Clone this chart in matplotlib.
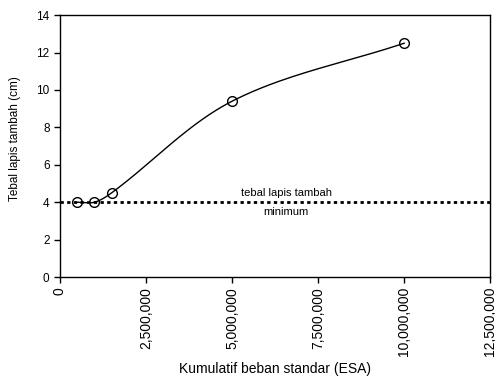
import numpy as np
import matplotlib.pyplot as plt
from matplotlib.ticker import FuncFormatter

plt.rcParams["font.family"] = ["Liberation Sans", "DejaVu Sans"]
plt.rcParams["font.size"] = 8

esa = [500000, 1000000, 1500000, 5000000, 10000000]
tebal = [4.0, 4.0, 4.5, 9.4, 12.5]
tebal_min = 4.0
x_ticks = [0, 2500000, 5000000, 7500000, 10000000, 12500000]
y_ticks = [0, 2, 4, 6, 8, 10, 12, 14]


def smooth(xs, ys, n=40):
    # bezier smoothing, tangents from neighbours, handles scaled by chord length
    p = np.column_stack([xs, ys]).astype(float)
    m = len(p)
    tang = []
    for i in range(m):
        a = p[max(i - 1, 0)]
        b = p[min(i + 1, m - 1)]
        d = b - a
        tang.append(d / np.hypot(*d))
    out = []
    t = np.linspace(0, 1, n)[:, None]
    for i in range(m - 1):
        p1, p2 = p[i], p[i + 1]
        L = np.hypot(*(p2 - p1)) / 3
        c1 = p1 + tang[i] * L
        c2 = p2 - tang[i + 1] * L
        c = ((1 - t) ** 3) * p1 + 3 * ((1 - t) ** 2) * t * c1 + 3 * (1 - t) * t ** 2 * c2 + t ** 3 * p2
        out.append(c)
    c = np.vstack(out)
    return c[:, 0], c[:, 1]


fig = plt.figure(figsize=(4.95, 3.79), dpi=100)
ax = fig.add_axes([0.1212, 0.269, 0.869, 0.691])

# smooth in screen-like units (x in millions, scaled to pixel aspect)
sx = 1e6 / 1.84
cx, cy = smooth(np.array(esa) / sx, tebal)
ax.plot(cx * sx, cy, color="black", lw=1)
ax.plot(esa, tebal, linestyle="none", marker="o", markersize=7,
        markerfacecolor="none", markeredgecolor="black", markeredgewidth=1)
ax.axhline(tebal_min, color="black", lw=2, linestyle=(0, (1.2, 1.2)))
ax.text(6570000, tebal_min + 0.25, "tebal lapis tambah", ha="center", va="bottom", fontsize=8)
ax.text(6570000, tebal_min - 0.25, "minimum", ha="center", va="top", fontsize=8)

ax.set_xlim(0, 12500000)
ax.set_ylim(0, 14)
ax.set_xticks(x_ticks)
ax.set_yticks(y_ticks)
ax.xaxis.set_major_formatter(FuncFormatter(lambda v, p: f"{int(v):,}"))
ax.tick_params(axis="x", rotation=90, direction="out", length=4, width=1, colors="black",
               labelsize=10, pad=3)
ax.tick_params(axis="y", direction="out", length=4, width=1, colors="black", labelsize=8.5)
for s in ax.spines.values():
    s.set_color("black")
    s.set_linewidth(1)

ax.set_xlabel("Kumulatif beban standar (ESA)", fontsize=10, va="center")
ax.xaxis.set_label_coords(0.5, -0.352)
ax.set_ylabel("Tebal lapis tambah (cm)", fontsize=8.5, va="center")
ax.yaxis.set_label_coords(-0.105, 0.527)

fig.savefig("out.png", dpi=100)
